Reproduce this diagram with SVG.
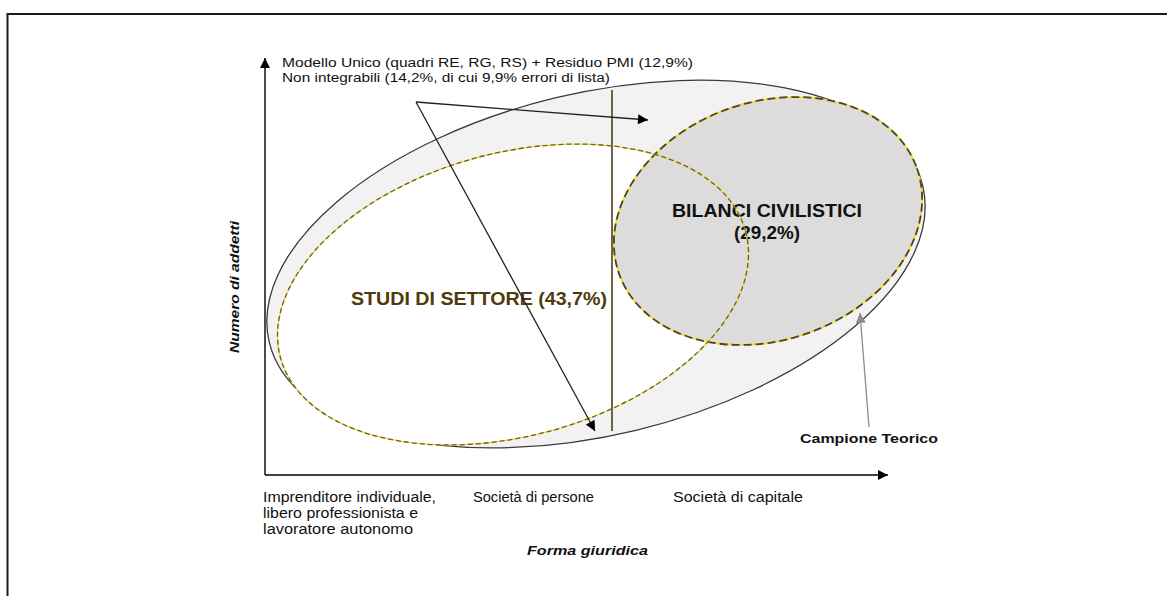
<svg xmlns="http://www.w3.org/2000/svg" width="1167" height="596" viewBox="0 0 1167 596">
<style>
text{font-family:"Liberation Sans",Arial,sans-serif;}
.lbl{font-size:14px;fill:#111;}
.top{font-size:12.5px;fill:#111;}
.big{font-size:19px;font-weight:bold;}
.axt{font-size:13px;font-weight:bold;font-style:italic;fill:#111;}
.conn{stroke:#222;stroke-width:1.3;fill:none;}
</style>
<defs>
<marker id="ah" viewBox="0 0 10 10" refX="10" refY="5" markerWidth="10" markerHeight="10" markerUnits="userSpaceOnUse" orient="auto">
<path d="M0,0 L10,5 L0,10 Z" fill="#000"/>
</marker>
<marker id="ahl" viewBox="0 0 10 10" refX="10" refY="5" markerWidth="12" markerHeight="10" markerUnits="userSpaceOnUse" orient="auto">
<path d="M0,0 L10,5 L0,10 Z" fill="#000"/>
</marker>
<marker id="ahg" viewBox="0 0 10 10" refX="10" refY="5" markerWidth="12" markerHeight="10" markerUnits="userSpaceOnUse" orient="auto">
<path d="M0,0 L10,5 L0,10 Z" fill="#8c8c8c"/>
</marker>
</defs>
<rect width="1167" height="596" fill="#fff"/>
<path d="M7.5 600 V14 H1170" fill="none" stroke="#1a1a1a" stroke-width="2"/>

<g id="axes">
<line x1="265" y1="475" x2="265" y2="58" stroke="#000" stroke-width="1.4" marker-end="url(#ah)"/>
<line x1="265" y1="475" x2="888" y2="475" stroke="#000" stroke-width="1.4" marker-end="url(#ah)"/>
</g>

<g id="campione-teorico">
<ellipse cx="596" cy="264" rx="336" ry="171" transform="rotate(-13.5 596 264)" fill="#f2f2f2" stroke="#3a3a3a" stroke-width="1.3"/>
</g>

<g id="studi-di-settore-fill">
<ellipse cx="513" cy="294.5" rx="241" ry="141.5" transform="rotate(-15.2 513 294.5)" fill="#fff"/>
</g>

<g id="bilanci-civilistici">
<ellipse cx="768" cy="221" rx="158" ry="119" transform="rotate(-19.5 768 221)" fill="#dcdcdc" stroke="#f0e020" stroke-width="1.8"/>
<ellipse cx="768" cy="221" rx="158" ry="119" transform="rotate(-19.5 768 221)" fill="none" stroke="#4a4430" stroke-width="1.8" stroke-dasharray="8 4"/>
<text class="big" x="767" y="217" text-anchor="middle" textLength="190" lengthAdjust="spacingAndGlyphs" fill="#111">BILANCI CIVILISTICI</text>
<text class="big" x="767" y="239" text-anchor="middle" textLength="66" lengthAdjust="spacingAndGlyphs" fill="#111">(29,2%)</text>
</g>

<g id="studi-di-settore">
<ellipse cx="513" cy="294.5" rx="241" ry="141.5" transform="rotate(-15.2 513 294.5)" fill="none" stroke="#f0e020" stroke-width="1.3"/>
<ellipse cx="513" cy="294.5" rx="241" ry="141.5" transform="rotate(-15.2 513 294.5)" fill="none" stroke="#6a5f35" stroke-width="1.3" stroke-dasharray="5 3"/>
<text class="big" x="351" y="305" textLength="256" lengthAdjust="spacingAndGlyphs" fill="#4d3b0c">STUDI DI SETTORE (43,7%)</text>
</g>

<g id="divider">
<line x1="612" y1="90" x2="612" y2="431" stroke="#6e6446" stroke-width="2"/>
</g>

<g id="connectors">
<line class="conn" x1="416" y1="102" x2="648" y2="120" marker-end="url(#ahl)"/>
<line class="conn" x1="416" y1="102" x2="595" y2="431" marker-end="url(#ahl)"/>
<line x1="869" y1="427" x2="860" y2="313" stroke="#8c8c8c" stroke-width="1.3" marker-end="url(#ahg)"/>
</g>

<g id="top-labels">
<text class="top" x="282" y="67" textLength="411" lengthAdjust="spacingAndGlyphs">Modello Unico (quadri RE, RG, RS) + Residuo PMI (12,9%)</text>
<text class="top" x="282" y="82" textLength="328" lengthAdjust="spacingAndGlyphs">Non integrabili (14,2%, di cui 9,9% errori di lista)</text>
</g>

<g id="campione-label">
<text x="800" y="443" font-size="13" font-weight="bold" fill="#111" textLength="138" lengthAdjust="spacingAndGlyphs">Campione Teorico</text>
</g>

<g id="y-axis-label">
<text class="axt" transform="translate(239 287) rotate(-90)" text-anchor="middle" textLength="132" lengthAdjust="spacingAndGlyphs">Numero di addetti</text>
</g>

<g id="x-axis-labels">
<text class="lbl" x="263" y="502" textLength="173" lengthAdjust="spacingAndGlyphs">Imprenditore individuale,</text>
<text class="lbl" x="263" y="518" textLength="155" lengthAdjust="spacingAndGlyphs">libero professionista e</text>
<text class="lbl" x="263" y="534" textLength="150" lengthAdjust="spacingAndGlyphs">lavoratore autonomo</text>
<text class="lbl" x="473" y="502" textLength="121" lengthAdjust="spacingAndGlyphs">Società di persone</text>
<text class="lbl" x="673" y="502" textLength="130" lengthAdjust="spacingAndGlyphs">Società di capitale</text>
<text class="axt" x="527" y="555" textLength="121" lengthAdjust="spacingAndGlyphs">Forma giuridica</text>
</g>
</svg>
